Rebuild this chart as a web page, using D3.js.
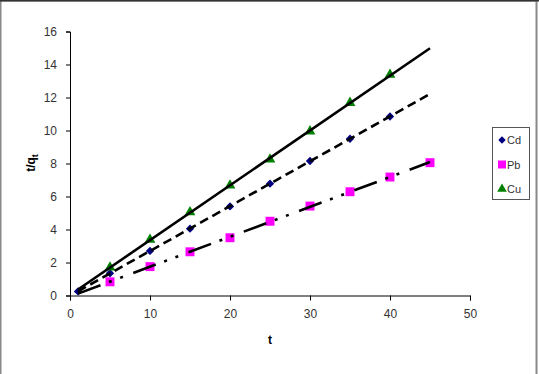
<!DOCTYPE html>
<html>
<head>
<meta charset="utf-8">
<script src="https://cdn.jsdelivr.net/npm/d3@7"></script>
<style>
  body { margin: 0; background: #fff; }
  svg { display: block; font-family: Arial, "Liberation Sans", sans-serif; }
</style>
</head>
<body>
<svg id="chart" width="539" height="374"></svg>
<script>
// data
var names = ["Cd", "Pb", "Cu"];
var cdT = [1, 5, 10, 15, 20, 25, 30, 35, 40];
var cdV = [0.25, 1.35, 2.7, 4.05, 5.4, 6.78, 8.15, 9.5, 10.85];
var pbT = [5, 10, 15, 20, 25, 30, 35, 40, 45];
var pbV = [0.83, 1.75, 2.65, 3.5, 4.5, 5.42, 6.29, 7.18, 8.05];
var cuT = [5, 10, 15, 20, 25, 30, 35, 40];
var cuV = [1.7, 3.38, 5.05, 6.67, 8.25, 9.95, 11.68, 13.38];
var xTicks = [0, 10, 20, 30, 40, 50];
var yTicks = [0, 2, 4, 6, 8, 10, 12, 14, 16];
var fitFrom = 1, fitTo = 45;

var svg = d3.select("#chart");

// chart area border
svg.append("rect").attr("x", 0.5).attr("y", 0.5).attr("width", 536).attr("height", 380)
  .attr("fill", "none").attr("stroke", "#888").attr("stroke-width", 2);
svg.append("line").attr("x1", 0).attr("x2", 539).attr("y1", 0.5).attr("y2", 0.5)
  .attr("stroke", "#333").attr("stroke-width", 2);

var x = d3.scaleLinear().domain([0, 50]).range([70, 470]);
var y = d3.scaleLinear().domain([0, 16]).range([295.5, 31.5]);

var xAxis = svg.append("g").attr("transform", "translate(0,295.5)")
  .call(d3.axisBottom(x).tickValues(xTicks).tickSize(5).tickPadding(9));
var yAxis = svg.append("g").attr("transform", "translate(70,0)")
  .call(d3.axisLeft(y).tickValues(yTicks).tickSize(4).tickPadding(9));
[xAxis, yAxis].forEach(function (g) {
  g.select(".domain").attr("stroke", "#000");
  g.selectAll(".tick line").attr("stroke", "#000");
  g.selectAll("text").attr("font-size", 12).attr("fill", "#333")
    .attr("font-family", "Arial, 'Liberation Sans', sans-serif");
});

svg.append("text").attr("x", x(25)).attr("y", 344).attr("text-anchor", "middle")
  .attr("font-size", 12).attr("font-weight", "bold").text("t");
var yt = svg.append("text").attr("transform", "translate(35,163) rotate(-90)")
  .attr("text-anchor", "middle").attr("font-size", 12).attr("font-weight", "bold");
yt.append("tspan").text("t/q");
yt.append("tspan").attr("font-size", 9).attr("dy", 3).text("t");

var series = [
  { name: "Cd", t: cdT, v: cdV, color: "#000080", shape: d3.symbolDiamond2, size: 44, dash: "9,5" },
  { name: "Pb", t: pbT, v: pbV, color: "#FF00FF", shape: d3.symbolSquare, size: 80, dash: "24,9,3,9,3,11" },
  { name: "Cu", t: cuT, v: cuV, color: "#008000", shape: d3.symbolTriangle, size: 50, dash: null }
];

// markers
series.forEach(function (s) {
  svg.append("g").selectAll("path").data(s.t).enter().append("path")
    .attr("transform", function (d, i) { return "translate(" + x(d) + "," + y(s.v[i]) + ")"; })
    .attr("d", d3.symbol().type(s.shape).size(s.size))
    .attr("fill", s.color);
});

// linear trendlines (least squares of each series)
series.forEach(function (s) {
  var mt = d3.mean(s.t), mv = d3.mean(s.v);
  var b = d3.sum(s.t, function (d, i) { return (d - mt) * (s.v[i] - mv); }) /
          d3.sum(s.t, function (d) { return (d - mt) * (d - mt); });
  var a = mv - b * mt;
  var line = svg.append("line")
    .attr("x1", x(fitFrom)).attr("y1", y(a + b * fitFrom))
    .attr("x2", x(fitTo)).attr("y2", y(a + b * fitTo))
    .attr("stroke", "#000").attr("stroke-width", 2.6);
  if (s.dash) line.attr("stroke-dasharray", s.dash);
});

// legend
var lg = svg.append("g");
lg.append("rect").attr("x", 492.5).attr("y", 127.5).attr("width", 37).attr("height", 72)
  .attr("fill", "#fff").attr("stroke", "#555");
series.forEach(function (s, i) {
  var ly = 140 + i * 24.5;
  lg.append("path").attr("transform", "translate(502," + ly + ")")
    .attr("d", d3.symbol().type(s.shape).size(s.size * 0.8)).attr("fill", s.color);
  lg.append("text").attr("x", 507).attr("y", ly + 4).attr("font-size", 11)
    .attr("fill", "#333").text(names[i]);
});
</script>
</body>
</html>
